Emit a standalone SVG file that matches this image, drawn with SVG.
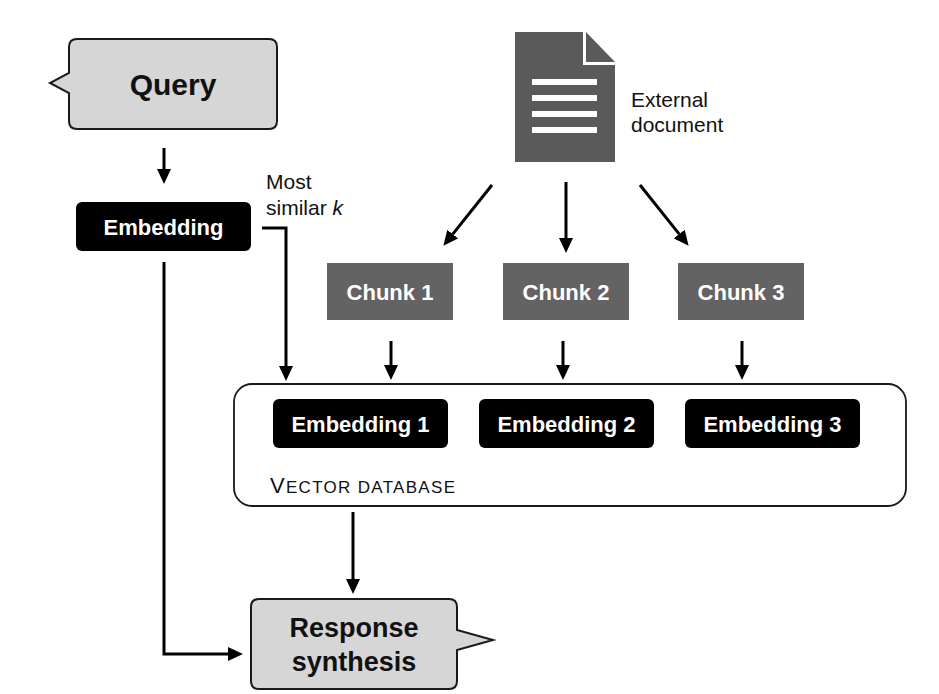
<svg xmlns="http://www.w3.org/2000/svg" width="939" height="694" viewBox="0 0 939 694">
<style>
  text { font-family: "Liberation Sans", Arial, sans-serif; }
  .callout { fill: #d6d6d6; stroke: #1a1a1a; stroke-width: 2; }
  .big { font-size: 30px; font-weight: bold; fill: #111; text-anchor: middle; }
  .resp { font-size: 27px; font-weight: bold; fill: #111; text-anchor: middle; }
  .emb { fill: #000; }
  .chunk { fill: #636363; }
  .wt { font-size: 22px; font-weight: bold; fill: #fff; text-anchor: middle; }
  .lbl { font-size: 21px; fill: #111; }
  .conn { fill: none; stroke: #000; stroke-width: 3; }
</style>
<defs>
  <marker id="ah" markerUnits="userSpaceOnUse" markerWidth="15" markerHeight="14" refX="0" refY="7" orient="auto" viewBox="0 0 15 14">
    <path d="M0,0 L15,7 L0,14 Z" fill="#000"/>
  </marker>
</defs>
<rect width="939" height="694" fill="#fff"/>

<g id="query">
  <path class="callout" d="M77,39 H269 Q277,39 277,47 V121 Q277,129 269,129 H77 Q69,129 69,121 V93 L50,83 L69,73 V47 Q69,39 77,39 Z"/>
  <text class="big" x="173" y="95">Query</text>
</g>

<g id="embedding">
  <rect class="emb" x="76" y="202" width="175" height="49" rx="6"/>
  <text class="wt" x="163.5" y="234.5">Embedding</text>
</g>

<g id="most-similar-label">
  <text class="lbl" x="266" y="189">Most</text>
  <text class="lbl" x="266" y="215">similar <tspan font-style="italic">k</tspan></text>
</g>

<g id="external-document">
  <path d="M515,32 H583 V65 H615 V162 H515 Z" fill="#5a5a5a"/>
  <path d="M586,32 L615,62 H586 Z" fill="#5a5a5a"/>
  <rect x="532" y="79" width="65" height="6" fill="#fff"/>
  <rect x="532" y="95" width="65" height="6" fill="#fff"/>
  <rect x="532" y="111" width="65" height="6" fill="#fff"/>
  <rect x="532" y="127" width="65" height="6" fill="#fff"/>
  <text class="lbl" x="631" y="107">External</text>
  <text class="lbl" x="631" y="132">document</text>
</g>

<g id="chunk1">
  <rect class="chunk" x="327" y="263" width="126" height="57"/>
  <text class="wt" x="390" y="300">Chunk 1</text>
</g>
<g id="chunk2">
  <rect class="chunk" x="503" y="263" width="126" height="57"/>
  <text class="wt" x="566" y="300">Chunk 2</text>
</g>
<g id="chunk3">
  <rect class="chunk" x="678" y="263" width="126" height="57"/>
  <text class="wt" x="741" y="300">Chunk 3</text>
</g>

<g id="vector-database">
  <rect x="234" y="384" width="672" height="122" rx="18" fill="#fff" stroke="#1a1a1a" stroke-width="1.8"/>
  <text x="270" y="493" font-size="17" fill="#111" letter-spacing="1.3"><tspan font-size="22">V</tspan>ECTOR DATABASE</text>
</g>

<g id="embedding1">
  <rect class="emb" x="273" y="399" width="175" height="49" rx="6"/>
  <text class="wt" x="360.5" y="431.5">Embedding 1</text>
</g>
<g id="embedding2">
  <rect class="emb" x="479" y="399" width="175" height="49" rx="6"/>
  <text class="wt" x="566.5" y="431.5">Embedding 2</text>
</g>
<g id="embedding3">
  <rect class="emb" x="685" y="399" width="175" height="49" rx="6"/>
  <text class="wt" x="772.5" y="431.5">Embedding 3</text>
</g>

<g id="response-synthesis">
  <path class="callout" d="M259,599 H449 Q457,599 457,607 V630 L493,640 L457,650 V681 Q457,689 449,689 H259 Q251,689 251,681 V607 Q251,599 259,599 Z"/>
  <text class="resp" x="354" y="637">Response</text>
  <text class="resp" x="354" y="671">synthesis</text>
</g>

<g id="connectors">
  <path class="conn" d="M164,148 V169" marker-end="url(#ah)"/>
  <path class="conn" d="M262,228 H286 V366" marker-end="url(#ah)"/>
  <path class="conn" d="M164,262 V654 H228" marker-end="url(#ah)"/>
  <path class="conn" d="M492,185 L452.75,234.1" marker-end="url(#ah)"/>
  <path class="conn" d="M566,182 V238" marker-end="url(#ah)"/>
  <path class="conn" d="M640,185 L679.25,234.1" marker-end="url(#ah)"/>
  <path class="conn" d="M391,341 V365" marker-end="url(#ah)"/>
  <path class="conn" d="M563,341 V365" marker-end="url(#ah)"/>
  <path class="conn" d="M742,341 V365" marker-end="url(#ah)"/>
  <path class="conn" d="M353,512 V579" marker-end="url(#ah)"/>
</g>
</svg>
